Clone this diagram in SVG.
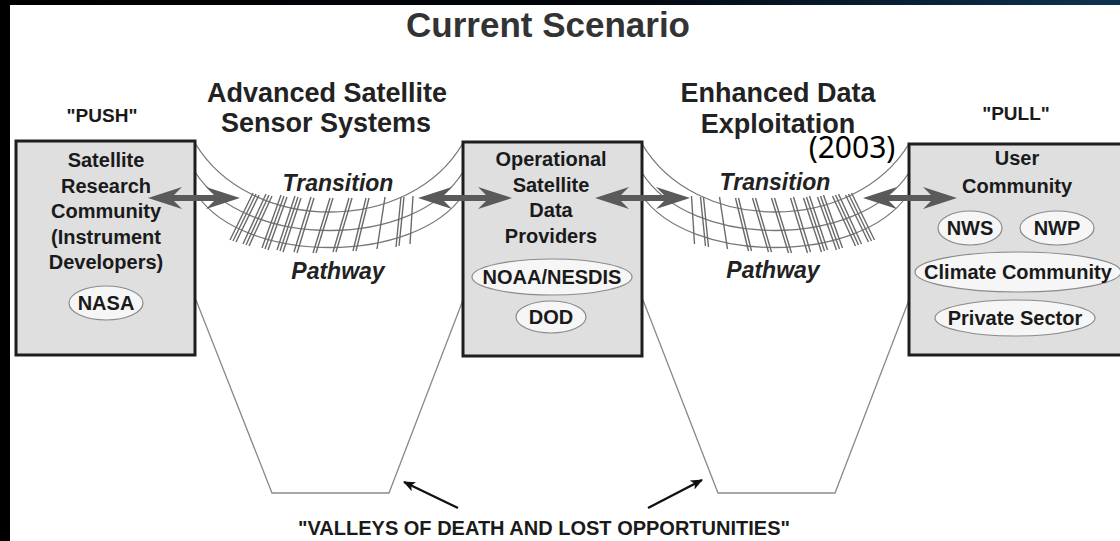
<svg xmlns="http://www.w3.org/2000/svg" width="1120" height="541" viewBox="0 0 1120 541">
<defs>
<linearGradient id="topg" x1="0" y1="0" x2="1" y2="0">
<stop offset="0" stop-color="#000"/><stop offset="0.55" stop-color="#02060c"/><stop offset="1" stop-color="#0d3352"/>
</linearGradient>
<marker id="vh" viewBox="0 0 12 10" refX="11" refY="5" markerWidth="12" markerHeight="10" markerUnits="userSpaceOnUse" orient="auto">
<path d="M0,0 L12,5 L0,10 L3,5 Z" fill="#111"/>
</marker>
<g id="bridge">
<g class="rope">
<path d="M195,143 C250,235 410,235 463,143"/>
<path d="M195,172 C245,250 415,250 463,172"/>
<path d="M197,195 C245,265 415,265 463,195"/>
</g>
<g class="plank">
<path d="M230,240 L253,193 M233,241 L256,194 M236,242 L259,195"/>
<path d="M243,244 L266,194 M246,245 L269,195 M249,246 L272,196"/>
<path d="M262,248 L281,195 M265,249 L284,196 M268,250 L287,197"/>
<path d="M277,250 L295,196 M280,251 L298,197 M283,252 L301,198"/>
<path d="M294,252 L311,197 M297,253 L314,198"/>
<path d="M313,253 L330,198 M316,253 L333,198"/>
<path d="M333,252 L349,198 M336,252 L352,198"/>
<path d="M353,251 L366,198 M356,251 L369,198"/>
<path d="M377,249 L385,197"/>
<path d="M396,247 L401,197 M399,246 L404,197"/>
<path d="M410,244 L413,196"/>
</g>
</g>
</defs>
<style>
.t{font-family:"Liberation Sans",Arial,Helvetica,sans-serif;font-weight:bold;fill:#1a1a1a;text-anchor:middle}
.bx{font-size:20px}
.hd{font-size:27px;fill:#222}
.it{font-size:23px;font-style:italic;fill:#222}
.box{fill:#dfdfdf;stroke:#1e1e1e;stroke-width:3}
.ov{fill:#f6f6f6;stroke:#8a8a8a;stroke-width:1.2}
.rope path{fill:none;stroke:#777;stroke-width:1.3}
.plank path{fill:none;stroke:#6a6a6a;stroke-width:1.4}
.arr{fill:#5a5a5a}
.valley{fill:none;stroke:#8a8a8a;stroke-width:1.3}
.va{stroke:#111;stroke-width:2.4;marker-end:url(#vh)}
</style>
<rect x="0" y="0" width="1120" height="541" fill="#fff"/>
<rect x="0" y="0" width="1120" height="5" fill="url(#topg)"/>
<rect x="0" y="0" width="10" height="541" fill="#000"/>

<g id="title">
<text class="t" x="548" y="37" font-size="35" style="fill:#333">Current Scenario</text>
</g>
<g id="headings">
<text class="t hd" x="327" y="102">Advanced Satellite</text>
<text class="t hd" x="326" y="132">Sensor Systems</text>
<text class="t hd" x="778" y="102">Enhanced Data</text>
<text class="t hd" x="778" y="133">Exploitation</text>
<text class="t" x="102" y="122" font-size="19">"PUSH"</text>
<text class="t" x="1016" y="120" font-size="19">"PULL"</text>
</g>

<g id="connectors">
<polyline class="valley" points="196,300 272,493 389,493 463,300"/>
<polyline class="valley" points="643,300 718,493 835,493 909,300"/>
<use href="#bridge"/>
<use href="#bridge" transform="matrix(-1 0 0 1 1104.5 0)"/>
<line class="va" x1="458" y1="508" x2="404" y2="482"/>
<line class="va" x1="648" y1="508" x2="702" y2="480"/>
</g>

<g id="node-research">
<rect class="box" x="16" y="141" width="179" height="214"/>
<text class="t bx" x="106" y="167">Satellite</text>
<text class="t bx" x="106" y="192.5">Research</text>
<text class="t bx" x="106" y="218">Community</text>
<text class="t bx" x="106" y="243.5">(Instrument</text>
<text class="t bx" x="106" y="269">Developers)</text>
<ellipse class="ov" cx="106" cy="303" rx="37" ry="17"/>
<text class="t bx" x="106" y="310">NASA</text>
</g>

<g id="node-operational">
<rect class="box" x="463" y="142" width="179" height="214"/>
<text class="t bx" x="551" y="166">Operational</text>
<text class="t bx" x="551" y="192">Satellite</text>
<text class="t bx" x="551" y="217">Data</text>
<text class="t bx" x="551" y="243">Providers</text>
<ellipse class="ov" cx="552" cy="277" rx="80" ry="18"/>
<text class="t bx" x="552" y="284">NOAA/NESDIS</text>
<ellipse class="ov" cx="551" cy="317" rx="35" ry="16"/>
<text class="t bx" x="551" y="324">DOD</text>
</g>

<g id="node-user">
<rect class="box" x="909" y="144" width="225" height="211"/>
<text class="t bx" x="1017" y="165">User</text>
<text class="t bx" x="1017" y="193">Community</text>
<ellipse class="ov" cx="970" cy="228" rx="32" ry="17"/>
<text class="t bx" x="970" y="235">NWS</text>
<ellipse class="ov" cx="1057" cy="228" rx="37" ry="17"/>
<text class="t bx" x="1057" y="235">NWP</text>
<ellipse class="ov" cx="1018" cy="272" rx="103" ry="20"/>
<text class="t bx" x="1018" y="279">Climate Community</text>
<ellipse class="ov" cx="1015" cy="318" rx="80" ry="18"/>
<text class="t bx" x="1015" y="325">Private Sector</text>
</g>

<g id="transfer-arrows">
<path class="arr" d="M148,198 L182,187 L174,195 L214,195 L206,187 L240,198 L206,209 L214,201 L174,201 L182,209 Z"/>
<path class="arr" d="M418,198 L452,187 L444,195 L486,195 L478,187 L512,198 L478,209 L486,201 L444,201 L452,209 Z"/>
<path class="arr" d="M595,198 L629,187 L621,195 L664,195 L656,187 L690,198 L656,209 L664,201 L621,201 L629,209 Z"/>
<path class="arr" d="M863,198 L897,187 L889,195 L931,195 L923,187 L957,198 L923,209 L931,201 L889,201 L897,209 Z"/>
</g>

<g id="pathway-labels">
<text class="t it" x="338" y="191">Transition</text>
<text class="t it" x="338" y="279">Pathway</text>
<text class="t it" x="775" y="190">Transition</text>
<text class="t it" x="773" y="278">Pathway</text>
</g>

<g id="year">
<text x="852" y="158" font-family="'Noto Sans','Open Sans',sans-serif" font-size="30" fill="#000" text-anchor="middle">(2003)</text>
</g>

<g id="valley-label">
<text class="t" x="544" y="535" font-size="20">"VALLEYS OF DEATH AND LOST OPPORTUNITIES"</text>
</g>
</svg>
